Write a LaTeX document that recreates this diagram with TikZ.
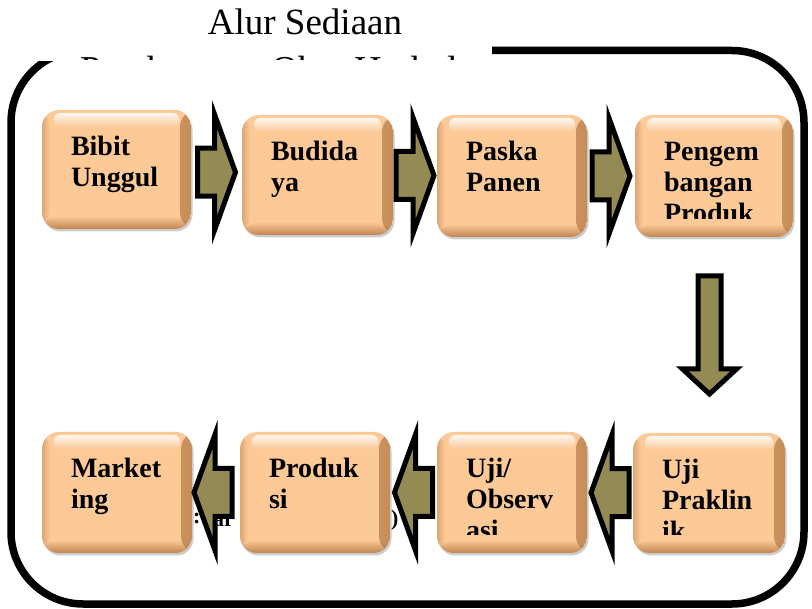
\documentclass[tikz,border=0pt]{standalone}
\usepackage{fontspec}
\setmainfont{Liberation Serif}
\usetikzlibrary{calc,fadings}

\definecolor{peach}{RGB}{252,201,151}
\definecolor{peachdark}{RGB}{176,116,64}
\definecolor{arrowolive}{RGB}{148,138,84}

\tikzset{
  stage/.style={
    rounded corners=17pt, inner sep=0pt, fill=peach,
    preaction={fill=black, fill opacity=.2, transform canvas={xshift=1.5pt,yshift=-2.5pt}},
    path picture={
      % darker rim on the right, bottom and left, light gloss along the top
      \fill[peachdark, path fading=west, opacity=.7]
        ([xshift=-11pt]path picture bounding box.north east) rectangle (path picture bounding box.south east);
      \fill[peachdark, path fading=north, opacity=.8]
        ([yshift=13pt]path picture bounding box.south west) rectangle (path picture bounding box.south east);
      \fill[peachdark, path fading=east, opacity=.4]
        (path picture bounding box.north west) rectangle ([xshift=8pt]path picture bounding box.south west);
      \fill[white, path fading=south, opacity=.85, rounded corners=6pt]
        ([xshift=12pt,yshift=-3pt]path picture bounding box.north west) rectangle
        ([xshift=-12pt,yshift=-17pt]path picture bounding box.north east);
    }},
  stagelabel/.style={anchor=base west, inner sep=0pt,
    font=\bfseries\fontsize{28}{31}\selectfont},
  flowarrow/.style={draw=black, line width=5pt, fill=arrowolive, line join=miter, miter limit=10},
  fragment/.style={anchor=base west, inner sep=0pt, font=\bfseries\fontsize{22}{24}\selectfont},
  pics/rightblock/.style={code={
    \draw[flowarrow] (-19,-24) -- (-2,-24) -- (-2,-58) -- (19,0) -- (-2,58) -- (-2,24) -- (-19,24) -- cycle;}},
  pics/downblock/.style={code={
    \draw[flowarrow] (-11.5,-59) -- (11.5,-59) -- (11.5,34) -- (27,34) -- (0,59) -- (-27,34) -- (-11.5,34) -- cycle;}},
}

% label of a stage box: top aligned, cut off near the bottom of the box
\newcommand\stagetext[3]{%
  \begin{scope}
    \clip (#1.north west) rectangle ([yshift=19pt]#1.south east);
    \node[stagelabel] (#2) at ([xshift=29pt,yshift=-46pt]#1.north west)
      {\parbox[t]{140pt}{\raggedright #3}};
  \end{scope}}

\begin{document}
\begin{tikzpicture}[x=1pt,y=-1pt]
\useasboundingbox (0,0) rectangle (812,609);
\fill[white] (0,0) rectangle (812,609);

% outer frame
\draw[line width=7.5pt, rounded corners=72pt] (11,50.5) rectangle (804,604);

% title box, covering the top of the frame
\fill[white] (0,0) rectangle (492,61);
\node[anchor=base, inner sep=0pt, font=\fontsize{37}{44}\selectfont] (title) at (305,35) {Alur Sediaan};
\begin{scope}
  \clip (0,0) rectangle (492,60);
  \node[anchor=base west, inner sep=0pt, font=\fontsize{38}{44}\selectfont] (title2) at (80,82.5)
    {Pembuatan\hspace{22pt}Obat Herbal};
\end{scope}

% stages, upper row
\node[stage, minimum width=149pt, minimum height=119pt] (b1) at (116.5,169.5) {};
\node[stage, minimum width=151pt, minimum height=120pt] (b2) at (317.5,175) {};
\node[stage, minimum width=150pt, minimum height=122pt] (b3) at (512,176) {};
\node[stage, minimum width=158pt, minimum height=122pt] (b4) at (714,176) {};
% stages, lower row
\node[stage, minimum width=150pt, minimum height=121pt] (b5) at (117,492.5) {};
\node[stage, minimum width=150pt, minimum height=121pt] (b6) at (315,492.5) {};
\node[stage, minimum width=150pt, minimum height=121pt] (b7) at (512,492.5) {};
\node[stage, minimum width=152pt, minimum height=120pt] (b8) at (709,493) {};

\stagetext{b1}{t1}{Bibit\\Unggul}
\stagetext{b2}{t2}{Budida\\ya}
\stagetext{b3}{t3}{Paska\\Panen}
\stagetext{b4}{t4}{Pengem\\bangan\\Produk}
\stagetext{b5}{t5}{Market\\ing}
\stagetext{b6}{t6}{Produk\\si}
\stagetext{b7}{t7}{Uji/\\Observ\\asi}
\stagetext{b8}{t8}{Uji\\Praklin\\ik}

% block arrows between the stages
\pic at ($(b1.east)!.5!(b2.west)$) {rightblock};
\pic at ($(b2.east)!.5!(b3.west)$) {rightblock};
\pic at ($(b3.east)!.5!(b4.west)$) {rightblock};
\pic at ($(b4.south)!.5!(b8.north)+(-2,0)$) {downblock};
\pic[rotate=180] at ($(b8.west)!.5!(b7.east)$) {rightblock};
\pic[rotate=180] at ($(b7.west)!.5!(b6.east)$) {rightblock};
\pic[rotate=180] at ($(b6.west)!.5!(b5.east)+(-3,0)$) {rightblock};

% bits of a caption line showing between the lower stages
\node[fragment] (colon) at (193,524) {:};
\begin{scope}
  \clip (208,510) rectangle (240,526);
  \node[fragment] (arbit) at (213,527) {ar};
\end{scope}
\begin{scope}
  \clip (389,511) rectangle (402,533);
  \node[fragment] (paren) at (391,526) {)};
\end{scope}
\end{tikzpicture}
\end{document}
